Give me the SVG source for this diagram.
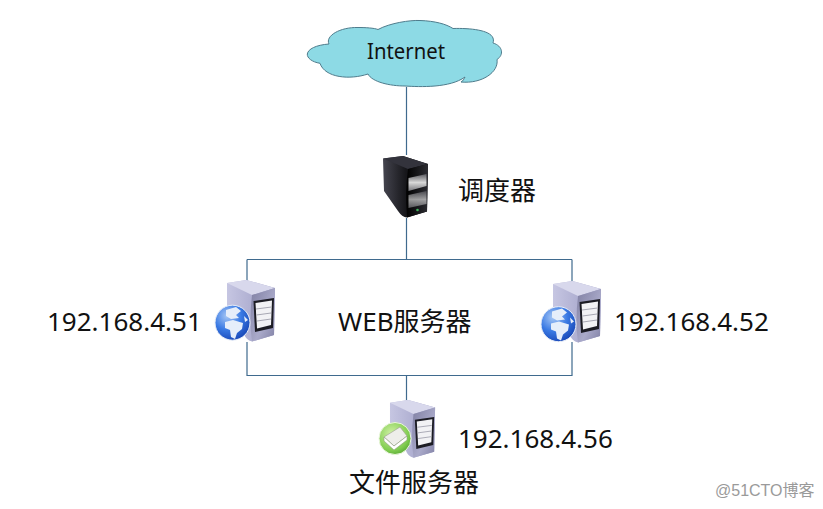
<svg xmlns="http://www.w3.org/2000/svg" width="823" height="509" viewBox="0 0 823 509">
<style>
text{font-family:"Noto Sans","Noto Sans CJK SC",sans-serif;fill:#111}
.l{font-size:26px}
.c{fill:none;stroke:#3f6a8e;stroke-width:1.2}
</style>
<defs>
<linearGradient id="bk" x1="0" y1="0" x2="1" y2="0"><stop offset="0" stop-color="#45454f"/><stop offset=".5" stop-color="#17171b"/><stop offset="1" stop-color="#050506"/></linearGradient>
<linearGradient id="bkf" x1="0" y1="0" x2="1" y2="0"><stop offset="0" stop-color="#000"/><stop offset="1" stop-color="#2c2c32"/></linearGradient>
<linearGradient id="dr" x1="0" y1="0" x2="0" y2="1"><stop offset="0" stop-color="#5a5a60"/><stop offset=".5" stop-color="#d8d8d8"/><stop offset="1" stop-color="#77777c"/></linearGradient>
<linearGradient id="sl" x1="0" y1="0" x2="1" y2="0"><stop offset="0" stop-color="#c6c6e2"/><stop offset="1" stop-color="#9a9ac2"/></linearGradient>
<linearGradient id="sf" x1="0" y1="0" x2="1" y2="1"><stop offset="0" stop-color="#7f7fa2"/><stop offset=".6" stop-color="#aaaaca"/><stop offset="1" stop-color="#8080a4"/></linearGradient>
<radialGradient id="gb" cx=".35" cy=".3" r=".8"><stop offset="0" stop-color="#a8c8f5"/><stop offset=".5" stop-color="#3a7ae4"/><stop offset="1" stop-color="#1440b0"/></radialGradient>
<radialGradient id="gr" cx=".4" cy=".35" r=".75"><stop offset="0" stop-color="#d2f2a6"/><stop offset=".7" stop-color="#80cc50"/><stop offset="1" stop-color="#4ea02c"/></radialGradient>
<g id="srv">
<path d="M227 283 L246.500 280 L275 288 L274 335 L252 341.500 Q246 340 244 334 L227 311Z" fill="url(#sl)"/>
<path d="M227 283 L246.500 280 L275 288 L252 295 Z" fill="#d8d8ec"/>
<path d="M252 295 L275 288 L274 335 L252 341.500 Q249 320 252 295Z" fill="url(#sf)"/>
<path d="M253.500 301 L274 298 L273 328 L255 332 Z" fill="#1c1c24"/>
<path d="M255.500 303 L272 300.500 L271 325 L257 328.500 Z" fill="#f2f2f5"/>
<path d="M256 309 L271.500 307 M256.500 315 L271 313 M257 321 L271 319" stroke="#a8a8b4" stroke-width="1" fill="none"/>
</g>
<g id="globe">
<circle cx="232.500" cy="322.700" r="17.500" fill="url(#gb)" stroke="#e8eef8" stroke-width="1"/>
<path d="M226 310 L236 307 L241 311 L236 315 L239 318 L231 319 L226 316Z M225 322 L233 320 L243 323 L242 329 L237 333 L235 339 L231 337 L230 330 L225 328Z M244 316 L248 320 L245 322Z" fill="#e6eefa"/>
</g>
</defs>

<g id="connectors">
<path class="c" d="M406.500 87V155M406.500 218V259.500M247 259.500H572M247 259.500V282M572 259.500V282M247 342V375.500H572V342M406.500 375.500V400"/>
</g>

<g id="internet">
<path d="M320 63.300C312 62 307 58 307.300 54C308 49 316 45 329 44C325 36 340 27 358 27.500C366 27.500 374 28 378 29.500C390 23 410 20 420 20.500C435 21 446 24 453 28.500C470 28 490 30 493 38C494 41 493 42 493 43C503 46 504 55 497 59.500C499 72 482 84 461 82C463 81 464 79 465 77C450 88 420 87 405 86C390 86 372 82 368 74C350 80 325 78 320 63.300Z" fill="#8ddae5" stroke="#4f7c8c" stroke-width="1"/>
<text x="367" y="59" font-size="21.500" textLength="78" lengthAdjust="spacingAndGlyphs">Internet</text>
</g>

<g id="scheduler">
<path d="M383 158.500L403 156L428 164L427 211.500L407 217.500Q402 217 398 211L384 191Z" fill="url(#bk)"/>
<path d="M383 158.500L403 156L428 164L408 169Z" fill="#33333c"/>
<path d="M408 169L428 164L427 211.500L407 217.500Q405 190 408 169Z" fill="url(#bkf)"/>
<path d="M408.500 178L426.500 174V186L408.500 191Z" fill="url(#dr)"/>
<path d="M408.500 195L426.500 191V204L408.500 208Z" fill="url(#dr)" opacity=".7"/>
<circle cx="417.500" cy="210" r="1.300" fill="#3fae5a"/>
<text x="458" y="200" class="l">调度器</text>
</g>

<g id="web1">
<use href="#srv"/>
<use href="#globe"/>
<text x="47" y="331" class="l">192.168.4.51</text>
</g>

<g id="web-label">
<text x="338" y="331" class="l">WEB服务器</text>
</g>

<g id="web2">
<use href="#srv" transform="translate(326 1)"/>
<use href="#globe" transform="translate(326 1.500)"/>
<text x="614" y="331" class="l">192.168.4.52</text>
</g>

<g id="file">
<use href="#srv" transform="translate(176.600 136.800) scale(.94)"/>
<circle cx="395" cy="438.500" r="16" fill="url(#gr)" stroke="#eaf6dc" stroke-width="1"/>
<path d="M384 437L400 427L407 436L394 446Z" fill="#eeeeea" stroke="#9a9a90" stroke-width=".6"/>
<path d="M384 437L394 446L407 436L407 440L394 450L384 441Z" fill="#fff" stroke="#8f9a80" stroke-width=".6"/>
<text x="458" y="448" class="l">192.168.4.56</text>
<text x="349" y="492" class="l">文件服务器</text>
</g>

<text id="watermark" x="715" y="496" font-size="16" style="fill:#9a9a9a;font-family:'Liberation Sans','Noto Sans CJK SC',sans-serif">@51CTO博客</text>
</svg>
